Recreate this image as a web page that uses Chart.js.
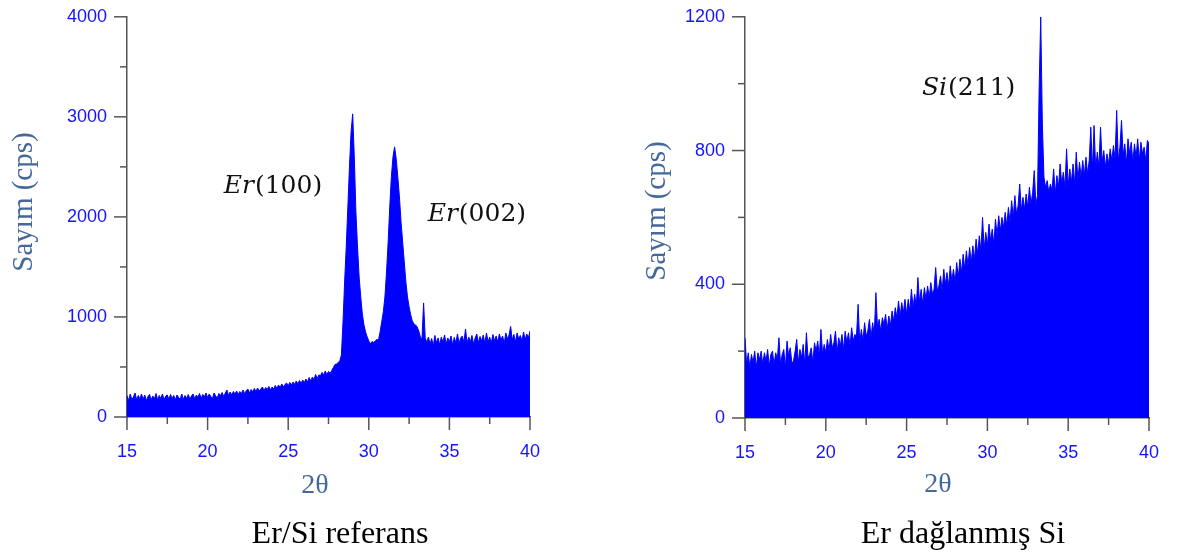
<!DOCTYPE html>
<html>
<head>
<meta charset="utf-8">
<script src="https://cdn.jsdelivr.net/npm/chart.js@4.4.1/dist/chart.umd.min.js"></script>
<style>
html, body { margin: 0; padding: 0; background: #fff; }
#wrap { position: relative; width: 1183px; height: 553px; overflow: hidden; }
canvas { position: absolute; top: 0; }
#refChart { left: 0; }
#etchChart { left: 590px; }
</style>
</head>
<body>
<div id="wrap">
  <canvas id="refChart" width="590" height="553"></canvas>
  <canvas id="etchChart" width="593" height="553"></canvas>
</div>
<script>
// 2θ scan: 15..40 deg, 0.1 deg step
const angleStart = 15
const angleStep = 0.1

// Er/Si referans, counts (cps), one row per degree
const refCounts = [
  215, 165, 230, 175, 200, 240, 170, 215, 180, 230,
  175, 220, 165, 205, 225, 170, 210, 180, 235, 170,
  215, 185, 230, 170, 210, 220, 175, 225, 185, 215,
  170, 220, 195, 180, 230, 175, 215, 185, 225, 180,
  210, 230, 180, 220, 195, 235, 185, 225, 200, 240,
  195, 230, 205, 185, 240, 210, 190, 235, 215, 245,
  205, 240, 270, 215, 250, 220, 255, 230, 260, 225,
  255, 235, 270, 230, 265, 280, 240, 275, 250, 285,
  255, 290, 260, 280, 300, 265, 295, 275, 305, 270,
  300, 280, 315, 285, 320, 295, 330, 300, 325, 340,
  310, 345, 320, 350, 325, 360, 330, 365, 335, 370,
  345, 380, 350, 395, 360, 400, 375, 425, 385, 420,
  415, 445, 420, 460, 425, 455, 435, 465, 495, 525,
  530, 545, 560, 620, 950, 1350, 1700, 2100, 2500, 2850,
  3030, 2600, 2050, 1700, 1400, 1200, 1030, 920, 850, 800,
  760, 730, 755, 745, 760, 775, 770, 850, 950, 1050,
  1200, 1450, 1750, 2100, 2400, 2600, 2700, 2580, 2400, 2200,
  1950, 1750, 1550, 1350, 1200, 1100, 1020, 960, 930, 920,
  900, 860, 800, 780, 1140, 790, 745, 800, 730, 785,
  710, 815, 740, 790, 720, 800, 745, 820, 730, 790,
  750, 810, 720, 795, 740, 830, 735, 790, 810, 745,
  880, 740, 800, 750, 815, 730, 790, 830, 740, 805,
  760, 820, 735, 840, 750, 800, 740, 825, 760, 810,
  750, 830, 770, 810, 735, 840, 780, 820, 905, 770,
  825, 750, 840, 780, 815, 760, 850, 775, 830, 790,
  860
]

// Er dağlanmış Si, counts (cps)
const etchCounts = [
  240, 160, 195, 150, 190, 165, 200, 150, 195, 175,
  200, 160, 195, 170, 205, 155, 190, 200, 160, 195,
  175, 240, 160, 190, 205, 150, 230, 185, 210, 165,
  170, 200, 235, 165, 205, 180, 220, 160, 255, 180,
  190, 210, 165, 225, 200, 230, 185, 265, 190, 220,
  195, 235, 200, 250, 210, 225, 260, 195, 240, 215,
  250, 205, 260, 225, 255, 215, 270, 230, 250, 245,
  340, 225, 265, 230, 285, 245, 260, 295, 240, 285,
  250, 375, 270, 295, 260, 300, 280, 310, 265, 305,
  275, 320, 290, 330, 300, 350, 305, 345, 315, 355,
  310, 355, 320, 385, 330, 370, 335, 420, 345, 385,
  340, 390, 355, 395, 360, 405, 370, 385, 450, 380,
  395, 425, 380, 445, 400, 435, 395, 455, 410, 445,
  405, 465, 420, 475, 435, 490, 445, 500, 455, 510,
  465, 515, 475, 535, 490, 545, 500, 600, 505, 555,
  515, 580, 530, 565, 520, 595, 545, 605, 560, 600,
  570, 615, 575, 630, 585, 650, 600, 665, 610, 635,
  700, 620, 660, 625, 670, 630, 690, 640, 675, 740,
  640, 665, 980, 1200, 880, 720, 690, 710, 675, 700,
  680, 745, 670, 725, 690, 760, 700, 735, 690, 805,
  695, 745, 705, 760, 700, 795, 710, 765, 720, 770,
  725, 780, 730, 770, 870, 740, 875, 745, 795, 750,
  870, 765, 800, 750, 790, 760, 805, 770, 815, 775,
  920, 770, 810, 890, 785, 820, 760, 835, 790, 825,
  765, 820, 780, 835, 770, 825, 790, 810, 770, 830,
  820
]

const angleTicks = [15, 20, 25, 30, 35, 40]
const angleMinor = [17.5, 22.5, 27.5, 32.5, 37.5]
const refYTicks = [0, 1000, 2000, 3000, 4000]
const refYMinor = [500, 1500, 2500, 3500]
const etchYTicks = [0, 400, 800, 1200]
const etchYMinor = [200, 600, 1000]

const blue = '#0000ff'
const tickBlue = '#1414ff'
const axisGray = '#555555'
const titleBlue = '#45699a'

function toPoints(counts) {
  return counts.map((c, i) => ({ x: Math.round((angleStart + i * angleStep) * 10) / 10, y: c }))
}

// ticks (major + minor), axis titles, peak labels and caption
const decor = {
  id: 'decor',
  afterDraw(chart, args, opts) {
    const { ctx, chartArea, scales: { x, y } } = chart
    ctx.save()
    ctx.strokeStyle = axisGray
    ctx.lineWidth = 1.5
    const tickX = (v, len) => {
      const px = x.getPixelForValue(v)
      ctx.beginPath(); ctx.moveTo(px, chartArea.bottom); ctx.lineTo(px, chartArea.bottom + len); ctx.stroke()
    }
    const tickY = (v, len) => {
      const py = y.getPixelForValue(v)
      ctx.beginPath(); ctx.moveTo(chartArea.left - len, py); ctx.lineTo(chartArea.left, py); ctx.stroke()
    }
    angleTicks.forEach(v => tickX(v, 13))
    angleMinor.forEach(v => tickX(v, 7))
    opts.yTicks.forEach(v => tickY(v, 13))
    opts.yMinor.forEach(v => tickY(v, 7))

    // y title
    ctx.fillStyle = titleBlue
    ctx.font = '29px "Liberation Serif", "Times New Roman", serif'
    ctx.save()
    ctx.translate(opts.yTitle.x, opts.yTitle.y)
    ctx.rotate(-Math.PI / 2)
    ctx.textAlign = 'center'
    ctx.textBaseline = 'middle'
    ctx.fillText('Sayım (cps)', 0, 0)
    ctx.restore()

    // x title
    ctx.font = '28px "Liberation Serif", "Times New Roman", serif'
    ctx.textAlign = 'center'
    ctx.textBaseline = 'alphabetic'
    ctx.fillText('2θ', opts.xTitle.x, opts.xTitle.y)

    // caption
    ctx.fillStyle = '#000'
    ctx.font = '32px "Liberation Serif", "Times New Roman", serif'
    ctx.fillText(opts.caption.text, opts.caption.x, opts.caption.y)

    // peak labels
    ctx.textAlign = 'left'
    ctx.fillStyle = '#111'
    opts.peaks.forEach(p => {
      let px = x.getPixelForValue(p.at[0])
      const py = y.getPixelForValue(p.at[1])
      ctx.font = 'italic 25px "DejaVu Serif", serif'
      ctx.fillText(p.name, px, py)
      px += ctx.measureText(p.name).width + 1
      ctx.font = '25px "DejaVu Serif", serif'
      ctx.fillText('(' + p.hkl + ')', px, py)
    })
    ctx.restore()
  }
}

function makeChart(id, counts, yMax, yTicks, yMinor, yWidth, padding, decorOpts) {
  return new Chart(document.getElementById(id), {
    type: 'line',
    data: {
      datasets: [{
        data: toPoints(counts),
        borderColor: blue,
        backgroundColor: blue,
        borderWidth: 1,
        pointRadius: 0,
        tension: 0,
        fill: 'origin'
      }]
    },
    options: {
      responsive: false,
      animation: false,
      devicePixelRatio: 1,
      layout: { padding: padding },
      plugins: {
        legend: { display: false },
        tooltip: { enabled: false },
        decor: Object.assign({ yTicks: yTicks, yMinor: yMinor }, decorOpts)
      },
      scales: {
        x: {
          type: 'linear',
          min: 15,
          max: 40,
          afterBuildTicks: s => { s.ticks = angleTicks.map(v => ({ value: v })) },
          afterFit: s => { s.height = 40 },
          ticks: {
            color: tickBlue,
            font: { family: '"Liberation Sans", Arial, sans-serif', size: 18 },
            padding: 10,
            maxRotation: 0,
            autoSkip: false,
            callback: v => String(v)
          },
          grid: { drawOnChartArea: false, tickLength: 14, tickColor: 'rgba(0,0,0,0)' },
          border: { color: axisGray, width: 1.5 }
        },
        y: {
          min: 0,
          max: yMax,
          afterBuildTicks: s => { s.ticks = yTicks.map(v => ({ value: v })) },
          afterFit: s => { s.width = yWidth },
          ticks: {
            color: tickBlue,
            font: { family: '"Liberation Sans", Arial, sans-serif', size: 18 },
            padding: 6,
            callback: v => String(v)
          },
          grid: { drawOnChartArea: false, tickLength: 14, tickColor: 'rgba(0,0,0,0)' },
          border: { color: axisGray, width: 1.5 }
        }
      }
    },
    plugins: [decor]
  })
}

makeChart('refChart', refCounts, 4000, refYTicks, refYMinor, 127,
  { left: 0, top: 14, right: 60, bottom: 96 },
  {
    yTitle: { x: 24, y: 202 },
    xTitle: { x: 315, y: 493 },
    caption: { text: 'Er/Si referans', x: 340, y: 543 },
    peaks: [
      { name: 'Er', hkl: '100', at: [21.0, 2240] },
      { name: 'Er', hkl: '002', at: [33.65, 1960] }
    ]
  })

makeChart('etchChart', etchCounts, 1200, etchYTicks, etchYMinor, 155,
  { left: 0, top: 14, right: 34, bottom: 95 },
  {
    yTitle: { x: 67, y: 211 },
    xTitle: { x: 348, y: 492 },
    caption: { text: 'Er dağlanmış Si', x: 373, y: 543 },
    peaks: [
      { name: 'Si', hkl: '211', at: [25.95, 965] }
    ]
  })
</script>
</body>
</html>
